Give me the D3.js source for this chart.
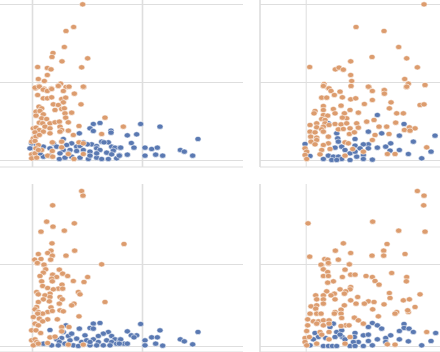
<!DOCTYPE html>
<html>
<head>
<meta charset="utf-8">
<script src="https://cdn.jsdelivr.net/npm/d3@7"></script>
<style>
    html, body { margin: 0; padding: 0; background: #fff; overflow: hidden; }
    .axis line { stroke: #dedede; }
</style>
</head>
<body>
<div id="chart"></div>
<script>
/*
Four scatter panels, orange series on top of blue
Values are [x, y]
 */

const xTicksLeft = [0, 330];
const xTicksRight = [0];
const yTicksTop = [0, 234, 468];
const yTicksBottom = [0, 246];

const blueA = [[184,108],[204,111],[174,95],[184,87],[237,88],[237,82],[142,80],[94,63],[209,55],[229,53],[179,47],[154,53],[119,50],[104,45],[64,50],[134,40],[144,42],[166,47],[194,42],[216,53],[239,40],[249,37],[264,37],[-1,50],[-6,35],[34,40],[54,35],[74,40],[94,30],[114,30],[134,27],[154,30],[174,25],[194,35],[204,30],[224,22],[244,28],[34,10],[54,13],[82,3],[99,7],[119,10],[144,7],[169,3],[194,7],[209,3],[229,3],[254,5],[262,15],[239,17],[194,20],[174,13],[24,20],[14,45],[84,20],[109,20],
    [326,108],[384,100],[286,74],[314,77],[298,51],[266,37],[306,37],[339,37],[359,33],[376,37],[445,30],[457,25],[498,63],[262,13],[286,16],[339,13],[371,16],[392,13],[482,13]];
const orangeA = [[152,467],[125,399],[102,387],[97,339],[63,321],[60,309],[90,296],[167,305],[149,278],[17,279],[46,276],[57,272],[46,255],[19,243],[37,237],[86,229],[79,223],[21,222],[102,219],[155,219],[11,215],[36,214],[58,215],
    [9,217],[22,220],[34,211],[46,207],[59,213],[79,222],[94,207],[111,220],[154,220],[127,199],[17,195],[34,185],[46,185],[59,188],[89,183],[101,187],[94,173],[64,167],[79,165],[147,167],[21,160],[29,155],[89,153],[97,155],[12,145],[24,147],[69,150],[99,140],[119,142],[12,133],[34,137],[29,125],[44,123],[101,127],[109,113],[54,110],[69,113],[82,115],[22,112],[32,110],[219,127],[39,100],[54,95],[4,95],[12,97],[22,90],[84,100],[89,90],[141,102],[109,88],[9,83],[34,85],[54,80],[84,85],[124,75],[209,78],[274,100],[4,65],[12,70],[22,75],[-1,55],[9,57],[61,53],[89,55],[141,53],[19,45],[12,35],[29,30],[89,38],[61,27],[-1,17],[9,20],[19,30],[109,18],[154,18],[47,13],[62,10],[126,3],[-1,5],[14,7],[154,50]];

const blueB = [[215,135],[295,108],[188,85],[228,80],[281,73],[93,80],[96,65],[148,63],[323,55],[388,73],[-2,48],[68,110],[215,37],[240,40],[255,50],[281,30],[188,47],[173,47],[98,55],[108,40],[118,30],[133,20],[148,43],[163,35],[188,35],[173,15],[53,3],[68,13],[83,10],[98,10],[133,0],[153,10],[173,3],[200,1],[308,18],[348,5],[376,25],[253,28],[13,12],[88,37],[148,25],[78,0],[108,3],[93,0]];
const orangeB = [[355,467],[151,399],[235,387],[279,339],[199,309],[303,305],[135,296],[12,279],[89,272],[100,277],[113,271],[335,278],[135,255],[297,243],[138,237],[308,229],[136,222],[190,219],[302,219],[358,225],[55,228],[54,222],[68,215],[235,210],
    [53,222],[70,215],[76,207],[86,195],[103,205],[136,222],[188,220],[200,207],[236,210],[236,199],[303,220],[358,225],[110,188],[48,187],[63,187],[135,182],[150,185],[200,180],[256,173],[176,168],[343,165],[355,167],[106,163],[53,162],[83,153],[133,150],[251,155],[28,147],[53,150],[25,140],[88,140],[116,140],[158,142],[273,140],[293,140],[53,135],[66,133],[123,125],[110,127],[48,123],[58,120],[205,120],[183,115],[153,110],[88,108],[106,107],[123,110],[13,105],[33,110],[58,110],[33,98],[53,100],[13,85],[28,83],[48,92],[70,105],[98,92],[113,93],[133,95],[158,97],[220,100],[243,100],[270,112],[311,98],[328,95],[296,90],[313,88],[15,70],[33,67],[53,85],[68,70],[131,78],[146,83],[208,75],[250,78],[16,55],[33,60],[28,47],[68,50],[118,53],[128,50],[200,60],[53,45],[73,33],[48,30],[141,33],[173,25],[363,38],[-2,35],[3,25],[-2,15],[3,3],[43,17],[118,13],[245,18],[268,18]];

const blueC = [[102,62],[184,67],[204,69],[174,54],[184,52],[54,48],[142,52],[229,42],[214,37],[199,30],[159,32],[94,42],[109,30],[239,30],[249,20],[264,20],[276,7],[89,24],[74,20],[82,12],[114,17],[134,22],[149,12],[164,17],[184,20],[199,12],[224,17],[239,12],[34,7],[59,2],[79,2],[99,7],[124,2],[139,0],[174,2],[194,2],[214,2],[234,2],[254,7],[262,12],[174,12],[119,37],
    [326,66],[384,47],[286,44],[314,32],[298,32],[266,20],[306,26],[339,17],[359,26],[376,26],[445,20],[457,14],[498,42],[262,7],[286,7],[339,2],[371,7],[392,1],[482,5]];
const orangeC = [[149,465],[153,451],[62,422],[44,373],[63,358],[127,368],[97,346],[27,343],[60,308],[276,306],[57,286],[47,279],[128,286],[19,276],[61,271],[102,271],[8,259],[27,261],[56,259],[16,248],[37,243],[209,245],
    [16,249],[36,244],[41,230],[82,229],[92,217],[62,214],[34,220],[24,210],[74,207],[107,210],[167,207],[59,202],[61,194],[29,194],[124,195],[156,192],[32,180],[90,184],[47,174],[79,172],[64,170],[92,172],[14,162],[19,155],[54,157],[139,162],[144,155],[39,152],[34,140],[54,147],[84,147],[91,140],[19,132],[82,127],[52,134],[126,127],[219,132],[119,122],[14,117],[9,110],[19,102],[57,116],[84,107],[94,104],[47,102],[61,105],[32,97],[17,97],[141,89],[4,87],[22,82],[47,80],[76,80],[32,74],[9,67],[19,62],[-1,47],[89,57],[111,57],[12,47],[26,39],[89,44],[54,26],[69,28],[-1,17],[9,20],[14,12],[47,9],[109,4],[154,4],[4,2],[19,7]];

const blueD = [[200,69],[215,62],[188,57],[228,52],[295,66],[295,54],[310,52],[281,45],[323,42],[390,39],[83,67],[73,57],[28,39],[38,27],[23,20],[93,42],[108,47],[148,39],[60,24],[88,27],[110,27],[146,27],[173,32],[188,34],[215,20],[240,24],[255,32],[281,20],[308,14],[376,15],[348,2],[200,2],[173,0],[53,0],[68,0],[80,0],[93,0],[133,0],[158,12],[188,15],[13,2],[143,12],[118,20],[103,34],[240,12],[148,0]];
const orangeD = [[335,465],[355,451],[354,422],[201,373],[7,368],[279,346],[358,343],[113,308],[244,306],[89,286],[234,286],[135,279],[298,276],[199,271],[234,271],[12,268],[57,261],[66,259],[98,259],[48,243],[68,247],[131,246],
    [46,244],[68,249],[131,245],[53,230],[118,229],[66,222],[53,210],[68,210],[110,207],[135,214],[148,214],[181,210],[200,207],[258,219],[303,207],[208,195],[302,194],[220,184],[83,194],[66,190],[135,177],[133,170],[103,170],[120,164],[116,157],[63,164],[86,157],[76,152],[251,159],[253,144],[343,155],[30,152],[53,152],[33,140],[53,140],[156,147],[151,127],[135,137],[88,140],[293,137],[311,140],[188,134],[205,132],[176,127],[235,125],[53,127],[16,119],[33,122],[30,112],[116,122],[328,117],[201,110],[273,102],[308,102],[268,97],[306,107],[88,102],[106,109],[13,97],[33,97],[46,97],[86,97],[106,97],[218,89],[146,85],[108,84],[6,80],[23,74],[38,74],[53,77],[70,77],[158,77],[173,67],[6,62],[33,67],[53,62],[70,67],[120,62],[106,60],[130,62],[3,45],[43,42],[48,34],[70,42],[363,42],[-2,24],[11,27],[33,7],[70,20],[-2,12],[118,7],[245,5],[268,4],[133,27],[3,2]];

const seriesColors = {blue: '#5a79b2', orange: '#dc9c6e'};

// left/right panel geometry, in page pixels
const panels = [
    {blue: blueA, orange: orangeA, left: 32, gridLeft: 0, gridRight: 243, baseline: 160, bottom: 167, top: 0, yTicks: yTicksTop, xTicks: xTicksLeft, yTop: 468, yTopPx: 4, frame: false},
    {blue: blueB, orange: orangeB, left: 305.7, gridLeft: 260, gridRight: 440, baseline: 160, bottom: 167, top: 0, yTicks: yTicksTop, xTicks: xTicksRight, yTop: 468, yTopPx: 4, frame: true},
    {blue: blueC, orange: orangeC, left: 32, gridLeft: 0, gridRight: 243, baseline: 346, bottom: 352, top: 184, yTicks: yTicksBottom, xTicks: xTicksLeft, yTop: 246, yTopPx: 264, frame: false},
    {blue: blueD, orange: orangeD, left: 305.7, gridLeft: 260, gridRight: 440, baseline: 346, bottom: 352, top: 184, yTicks: yTicksBottom, xTicks: xTicksRight, yTop: 246, yTopPx: 264, frame: true}
];

const svg = d3.select('#chart').append('svg')
    .attr('width', 440)
    .attr('height', 352)
    .style('display', 'block');

// soft edge, the reference is a slightly blurred raster
svg.append('filter').attr('id', 'soft')
    .append('feGaussianBlur').attr('stdDeviation', 0.35);

function drawPanel(p) {
    let g = svg.append('g');

    let x = d3.scaleLinear().domain([0, 330]).range([p.left, p.left + 110]);
    let y = d3.scaleLinear().domain([0, p.yTop]).range([p.baseline, p.yTopPx]);

    // horizontal grid
    let yGrid = g.append('g')
        .attr('class', 'axis')
        .attr('transform', `translate(${p.gridRight},0)`)
        .call(d3.axisLeft(y).tickValues(p.yTicks).tickSize(p.gridRight - p.gridLeft).tickFormat(''));
    yGrid.select('.domain').remove();
    yGrid.selectAll('line').attr('stroke-width', 1.2);

    // vertical grid
    let xGrid = g.append('g')
        .attr('class', 'axis')
        .attr('transform', `translate(0,${p.bottom})`)
        .call(d3.axisTop(x).tickValues(p.xTicks).tickSize(p.bottom - p.top).tickFormat(''));
    xGrid.select('.domain').remove();
    xGrid.selectAll('line').attr('stroke-width', p.frame ? 1 : 1.6);

    // bottom border, plus left border on the right hand panels
    g.append('line')
        .attr('x1', p.gridLeft).attr('x2', p.gridRight)
        .attr('y1', p.bottom).attr('y2', p.bottom)
        .attr('stroke', '#dedede').attr('stroke-width', 1.2);
    if (p.frame) {
        g.append('line')
            .attr('x1', p.gridLeft).attr('x2', p.gridLeft)
            .attr('y1', p.top).attr('y2', p.bottom)
            .attr('stroke', '#dedede').attr('stroke-width', 1.6);
    }

    let marks = g.append('g').attr('filter', 'url(#soft)');
    ['blue', 'orange'].forEach(function(name) {
        marks.append('g').selectAll('ellipse')
            .data(p[name])
            .join('ellipse')
            .attr('cx', d => x(d[0]))
            .attr('cy', d => y(d[1]))
            .attr('rx', 3.1)
            .attr('ry', 2.6)
            .attr('fill', seriesColors[name])
            .attr('stroke', '#fff')
            .attr('stroke-opacity', 0.75)
            .attr('stroke-width', 0.7);
    });
}

panels.forEach(drawPanel);
</script>
</body>
</html>
